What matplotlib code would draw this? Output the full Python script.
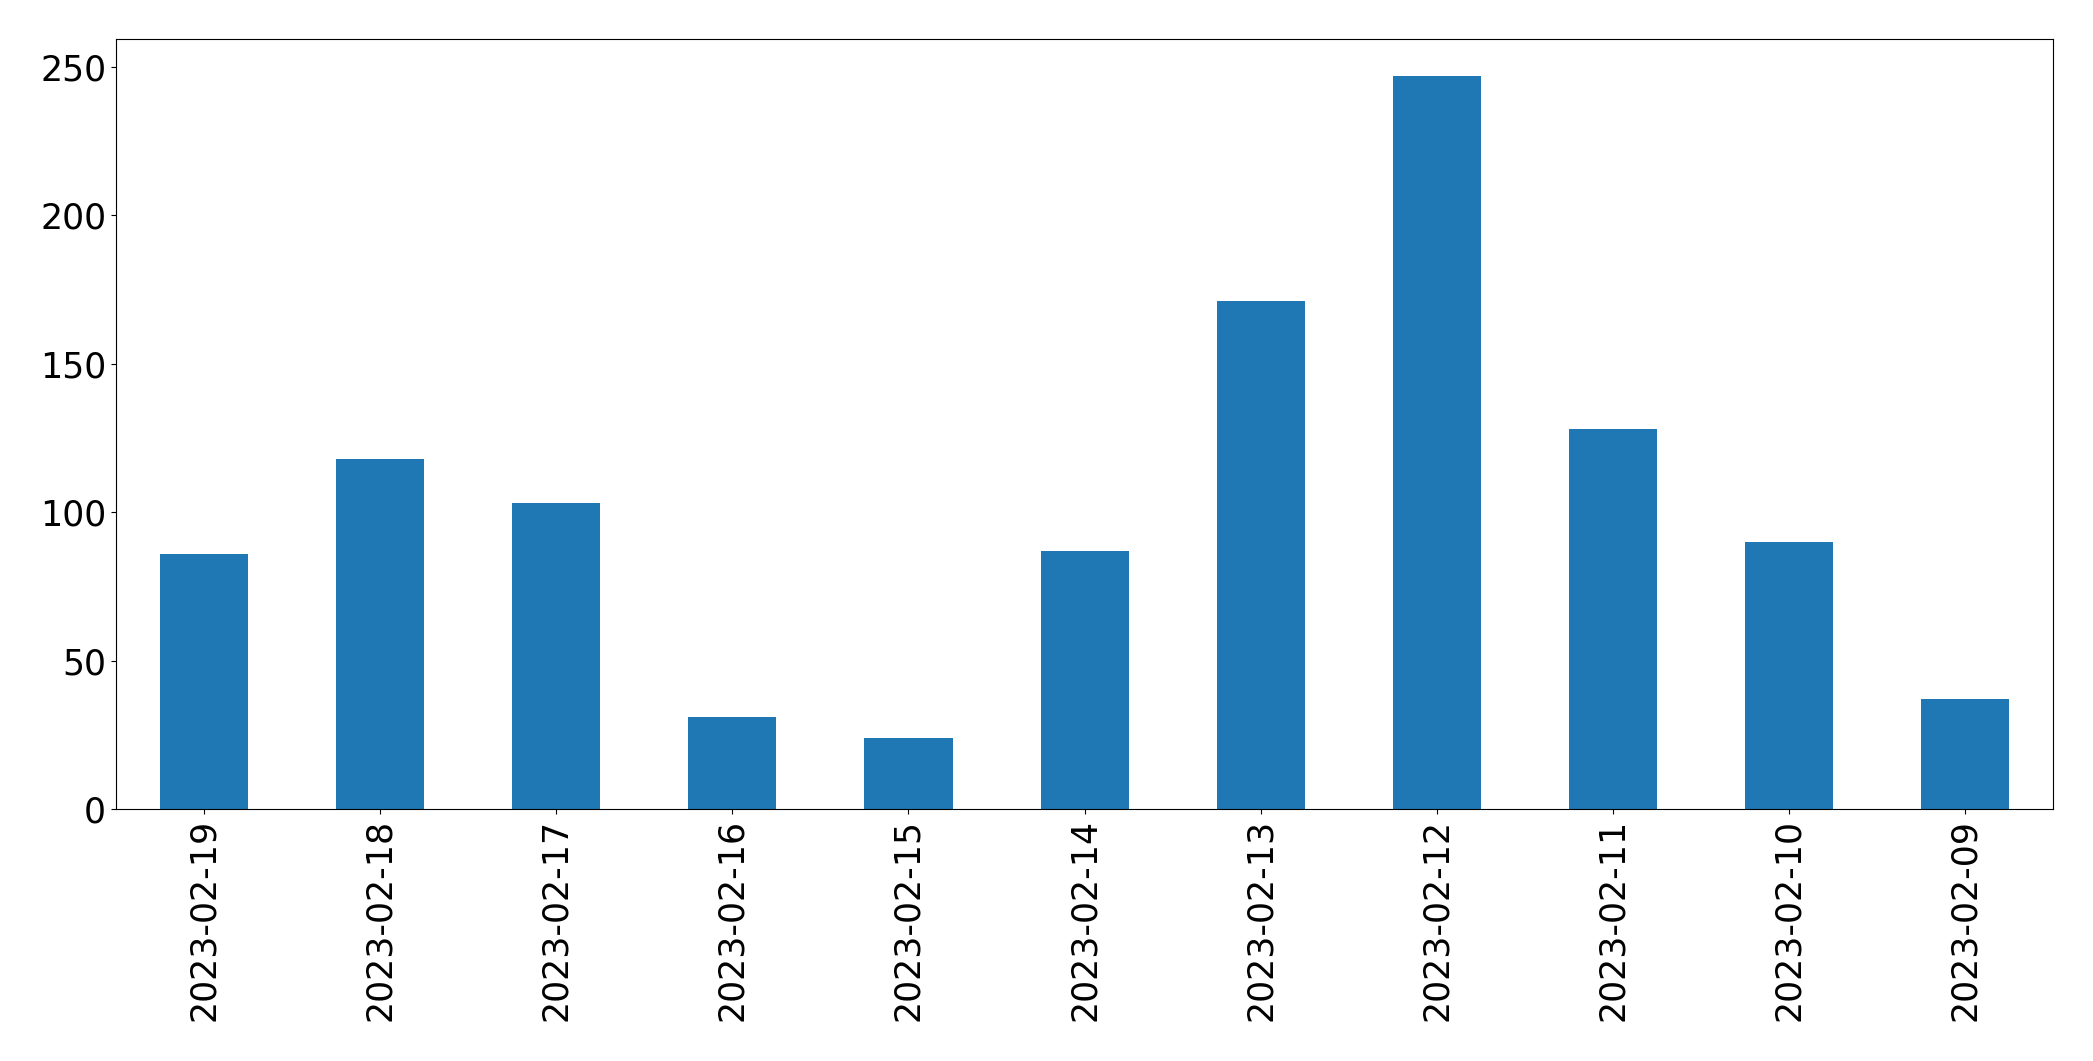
import pandas as pd
import matplotlib
matplotlib.use("Agg")
import matplotlib.pyplot as plt

dates = ["2023-02-19", "2023-02-18", "2023-02-17", "2023-02-16", "2023-02-15",
         "2023-02-14", "2023-02-13", "2023-02-12", "2023-02-11", "2023-02-10",
         "2023-02-09"]
counts = [86, 118, 103, 31, 24, 87, 171, 247, 128, 90, 37]

s = pd.Series(counts, index=dates)

fig, ax = plt.subplots(figsize=(20.93, 10.61), dpi=100)
s.plot(kind="bar", ax=ax, color="#1f77b4")
ax.tick_params(labelsize=25)
plt.subplots_adjust(left=0.0554, right=0.981, top=0.963, bottom=0.2375)
fig.savefig("out.png", dpi=100)
